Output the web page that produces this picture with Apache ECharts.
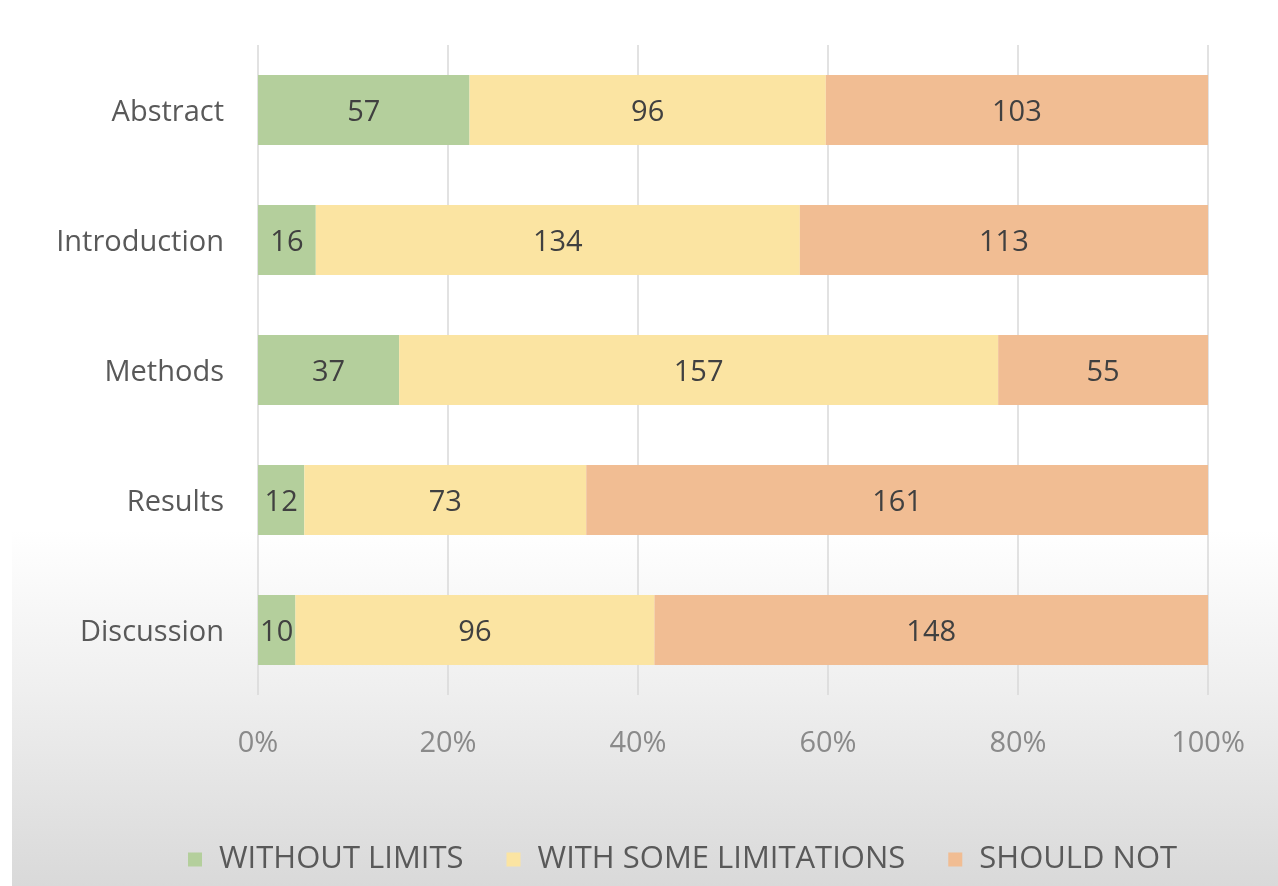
<!DOCTYPE html>
<html><head><meta charset="utf-8">
<script src="https://cdn.jsdelivr.net/npm/echarts@6/dist/echarts.min.js"></script>
<style>
html,body{margin:0;padding:0;background:#fff;}
#bg{position:absolute;left:12px;top:0;width:1266px;height:886px;background:linear-gradient(to bottom,#ffffff 0px,#ffffff 530px,#efefef 690px,#d9d9d9 886px);}
#chart{position:absolute;left:0;top:0;width:1278px;height:886px;}
</style></head>
<body>
<div id="bg"></div>
<div id="chart"></div>
<script>
const categories = ['Abstract','Introduction','Methods','Results','Discussion'];
const seriesNames = ['WITHOUT LIMITS','WITH SOME LIMITATIONS','SHOULD NOT'];
const withoutLimits = [57,16,37,12,10];
const withSomeLimitations = [96,134,157,73,96];
const shouldNot = [103,113,55,161,148];
const tickLabels = ['0%','20%','40%','60%','80%','100%'];
const colors = ['#b4cf9c','#fbe4a2','#f1bd93'];

const raw = [withoutLimits, withSomeLimitations, shouldNot];
const totals = categories.map((c,i)=>raw.reduce((s,a)=>s+a[i],0));
const font = "'Open Sans',sans-serif";

const chart = echarts.init(document.getElementById('chart'));
chart.setOption({
  animation:false,
  backgroundColor:'transparent',
  grid:{left:258,right:70,top:45,bottom:191},
  legend:{
    bottom:6,left:183,itemWidth:14,itemHeight:14,itemGap:43,
    icon:'rect',
    textStyle:{color:'#595959',fontSize:31,fontFamily:font,padding:[0,0,0,12]},
    data:seriesNames
  },
  xAxis:{
    type:'value',min:0,max:100,interval:20,
    axisLine:{show:false},axisTick:{show:false},
    splitLine:{lineStyle:{color:'#d9d9d9',width:1.5}},
    axisLabel:{color:'#8a8a8a',fontSize:29,fontFamily:font,margin:34,
      formatter:(v)=>tickLabels[Math.round(v/20)]}
  },
  yAxis:{
    type:'category',data:categories,inverse:true,
    axisLine:{show:false},axisTick:{show:false},
    axisLabel:{margin:34,
      formatter:(v)=>'{c|'+v+'}',
      rich:{c:{color:'#595959',fontSize:29,fontFamily:font,padding:[6,0,0,0]}}}
  },
  series: raw.map((arr,k)=>({
    name:seriesNames[k],type:'bar',stack:'total',barWidth:70,
    itemStyle:{color:colors[k]},
    label:{show:true,position:'inside',color:'#404040',fontSize:29,fontFamily:font,
      offset:[0,3],
      formatter:(p)=>String(arr[p.dataIndex])},
    data:arr.map((v,i)=>v/totals[i]*100)
  }))
});
</script>
</body></html>
